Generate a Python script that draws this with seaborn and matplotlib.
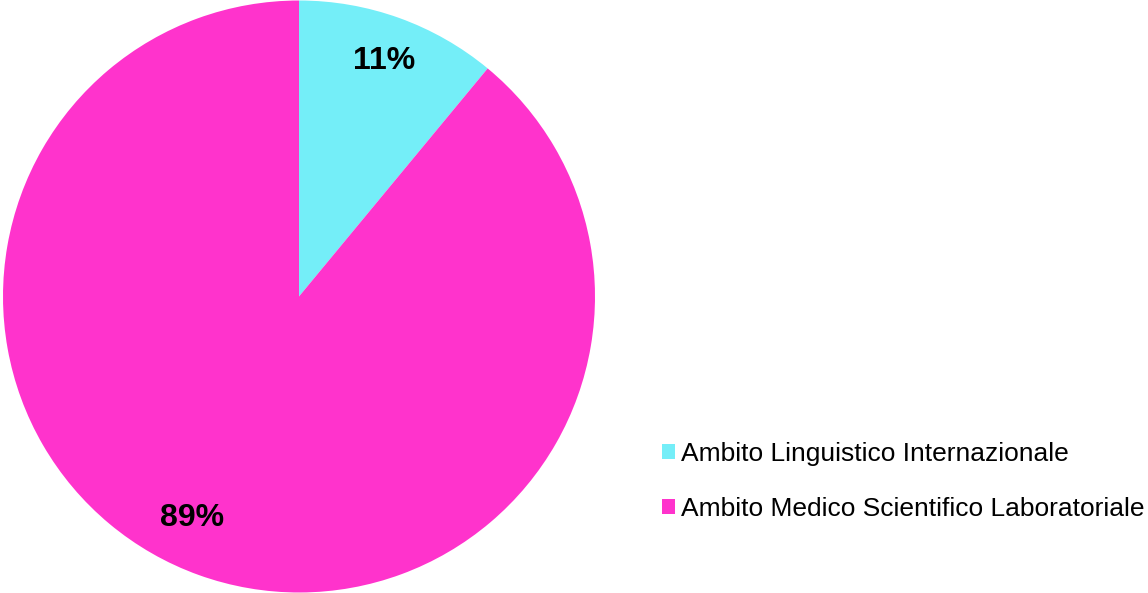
import matplotlib
matplotlib.use('Agg')
import matplotlib.pyplot as plt
import numpy as np
import seaborn as sns

# Data
categories = ['Ambito Linguistico Internazionale', 'Ambito Medico Scientifico Laboratoriale']
shares = [11, 89]
colors = ['#74EEF8', '#FF33CC']

sns.set_theme(style='white')
plt.rcParams['font.family'] = ['Liberation Sans', 'DejaVu Sans']
plt.rcParams['text.color'] = 'black'

fig = plt.figure(figsize=(11.48, 5.93), dpi=100)
ax = fig.add_axes([3 / 1148, 0, 592 / 1148, 1])

wedges, texts, autotexts = ax.pie(
    shares, colors=colors, startangle=90, counterclock=False,
    autopct='%.0f%%', pctdistance=0.845, radius=1,
    wedgeprops={'linewidth': 0, 'edgecolor': 'none'},
    textprops={'fontsize': 23, 'fontweight': 'bold', 'color': 'black'},
)
# Excel-style label for the big slice sits a bit off the slice mid-angle
ang = np.deg2rad(-115.7)
autotexts[1].set_position((0.83 * np.cos(ang), 0.83 * np.sin(ang)))

ax.set_xlim(-1, 1)
ax.set_ylim(-1, 1)
ax.set_aspect('equal')

leg = fig.legend(
    wedges, categories, loc='upper left', bbox_to_anchor=(651 / 1148, 1 - 431 / 593),
    frameon=False, fontsize=19, handlelength=0.5, handleheight=0.5,
    handletextpad=0.23, labelspacing=1.2, borderaxespad=0,
)
for t in leg.get_texts():
    t.set_color('black')

fig.savefig('out.png', dpi=100)
